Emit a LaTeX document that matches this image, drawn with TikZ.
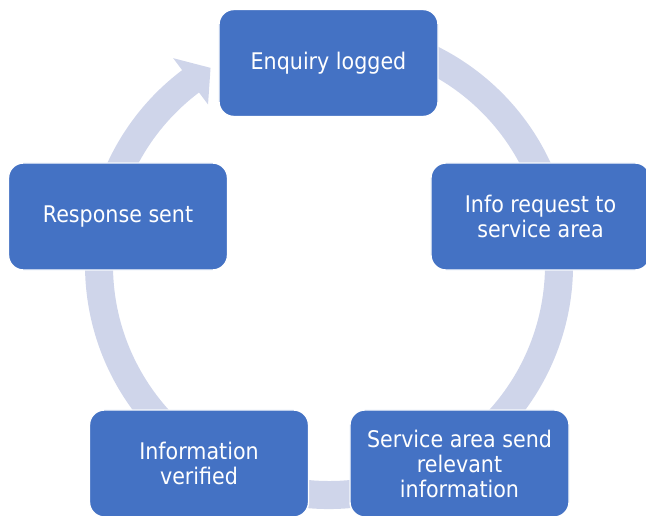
\documentclass[tikz,border=0pt]{standalone}
\usepackage{fontspec}
\setmainfont{DejaVu Sans}[FakeStretch=0.9]

\definecolor{stageblue}{HTML}{4472C4}
\definecolor{cyclegray}{HTML}{CFD5EA}

\tikzset{
    stage/.style={rectangle, rounded corners=0.375cm, fill=stageblue, draw=white, line width=1pt,
        minimum width=5.475cm, minimum height=2.675cm, text=white, align=center,
        font=\fontsize{16.3}{17.8}\selectfont}
}

\begin{document}
\begin{tikzpicture}[x=0.025cm, y=0.025cm]

    \useasboundingbox (0,0) rectangle (646,-515);

    %% Cycle arrow behind the stages
    \begin{scope}[shift={(329,-265)}]
        \fill[cyclegray] (100:244) arc[start angle=100, end angle=-233, radius=244]
            -- (-233:259) -- (-239:230) -- (-233:201) -- (-233:216)
            arc[start angle=-233, end angle=100, radius=216] -- cycle;
    \end{scope}

    %% Stages
    \node[stage] (logged) at (328.5,-63) {Enquiry logged};
    \node[stage] (request) at (540.5,-216.5) {Info request to\\service area};
    \node[stage] (send) at (459.5,-463.5) {Service area send\\relevant\\information};
    \node[stage] (verified) at (199,-463.5) {Information\\verified};
    \node[stage] (sent) at (118,-216.5) {Response sent};

\end{tikzpicture}
\end{document}
